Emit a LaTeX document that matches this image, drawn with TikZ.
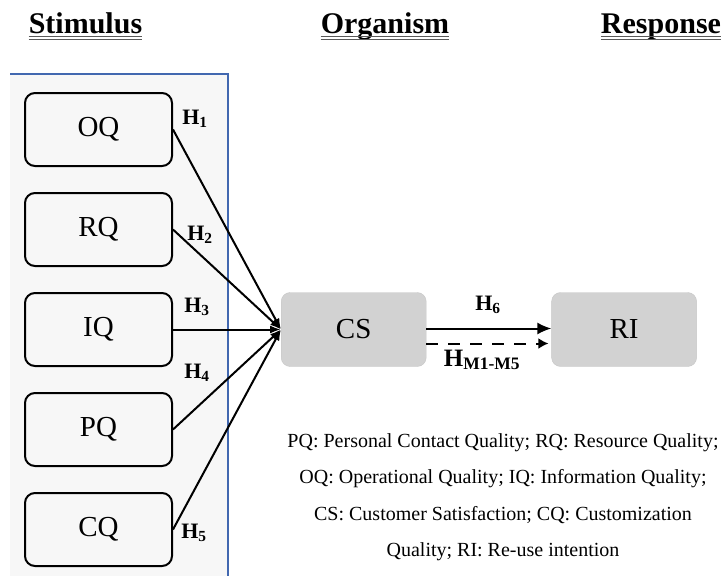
\documentclass[tikz,border=0pt]{standalone}
\usepackage{fontspec}
\setmainfont{Liberation Serif}
\usetikzlibrary{arrows.meta, positioning}

\definecolor{panelblue}{RGB}{66,104,176}
\definecolor{panelgray}{RGB}{247,247,247}

\begin{document}
\begin{tikzpicture}[
  x=1pt, y=-1pt,
  node distance=25pt,
  qbox/.style={draw, rounded corners=10pt, line width=2pt, minimum width=147pt,
              minimum height=73pt, text centered, font=\fontsize{29}{32}\selectfont},
  gbox/.style={draw=gray!45, fill=gray!35, rounded corners=9pt, minimum width=145pt,
              minimum height=74pt, text centered, font=\fontsize{29}{32}\selectfont},
  head/.style={inner sep=0pt, anchor=base, font=\fontsize{30}{34}\selectfont\bfseries},
  uline/.style={black!65, line width=1.1pt},
  hlab/.style={inner sep=0pt, font=\fontsize{22}{24}\selectfont\bfseries},
  arr/.style={-{Latex[length=11pt, width=8pt]}, line width=2pt},
  big/.style={-{Latex[length=14pt, width=12pt]}, line width=2pt},
  dsh/.style={-{Latex[length=10pt, width=11pt]}, line width=2pt, dash pattern=on 12pt off 10pt}
]
  \useasboundingbox (0,0) rectangle (724,576);

  % stimulus panel
  \fill[panelgray] (10,74) rectangle (228,576);
  \draw[panelblue, line width=1.5pt] (10,74) -- (228,74) -- (228,576);

  % headings
  \node[head] (st) at (85.5,33) {Stimulus};
  \node[head] (org) at (385,33) {Organism};
  \node[head] (resp) at (661,33) {Response};
  \foreach \n in {st, org, resp} {
    \draw[uline] ([yshift=-3.5pt]\n.base west) -- ([yshift=-3.5pt]\n.base east);
    \draw[uline] ([yshift=-6.5pt]\n.base west) -- ([yshift=-6.5pt]\n.base east);
  }

  \node[qbox] (oq) at (98.5,129.5) {OQ};
  \node[qbox, below=of oq] (rq) {RQ};
  \node[qbox, below=of rq] (iq) {IQ};
  \node[qbox, below=of iq] (pq) {PQ};
  \node[qbox, below=of pq] (cq) {CQ};

  \node[gbox, right=108pt of iq] (cs) {CS};
  \node[gbox, right=125pt of cs] (ri) {RI};

  \foreach \q in {oq, rq, iq, pq, cq}
    \draw[arr] (\q.east) -- (cs.west);

  \node[hlab] (h1) at (195,119) {H\textsubscript{1}};
  \node[hlab] (h2) at (200,235) {H\textsubscript{2}};
  \node[hlab] (h3) at (197,307) {H\textsubscript{3}};
  \node[hlab] (h4) at (197,373) {H\textsubscript{4}};
  \node[hlab] (h5) at (194,533) {H\textsubscript{5}};

  \draw[big] ([yshift=1pt]cs.east) -- ([yshift=1pt]ri.west);
  \draw[dsh] ([yshift=-14pt]cs.east) -- ([yshift=-14pt, xshift=-3pt]ri.west);
  \node[hlab] (h6) at (488,305) {H\textsubscript{6}};
  \node[hlab, font=\fontsize{25}{28}\selectfont\bfseries] (hm) at (482,360) {H\textsubscript{M1-M5}};

  % abbreviations
  \node[align=center, font=\fontsize{20}{36.5}\selectfont] (key) at (503,497)
    {PQ: Personal Contact Quality; RQ: Resource Quality;\\
     OQ: Operational Quality; IQ: Information Quality;\\
     CS: Customer Satisfaction; CQ: Customization\\
     Quality; RI: Re-use intention};
\end{tikzpicture}
\end{document}
